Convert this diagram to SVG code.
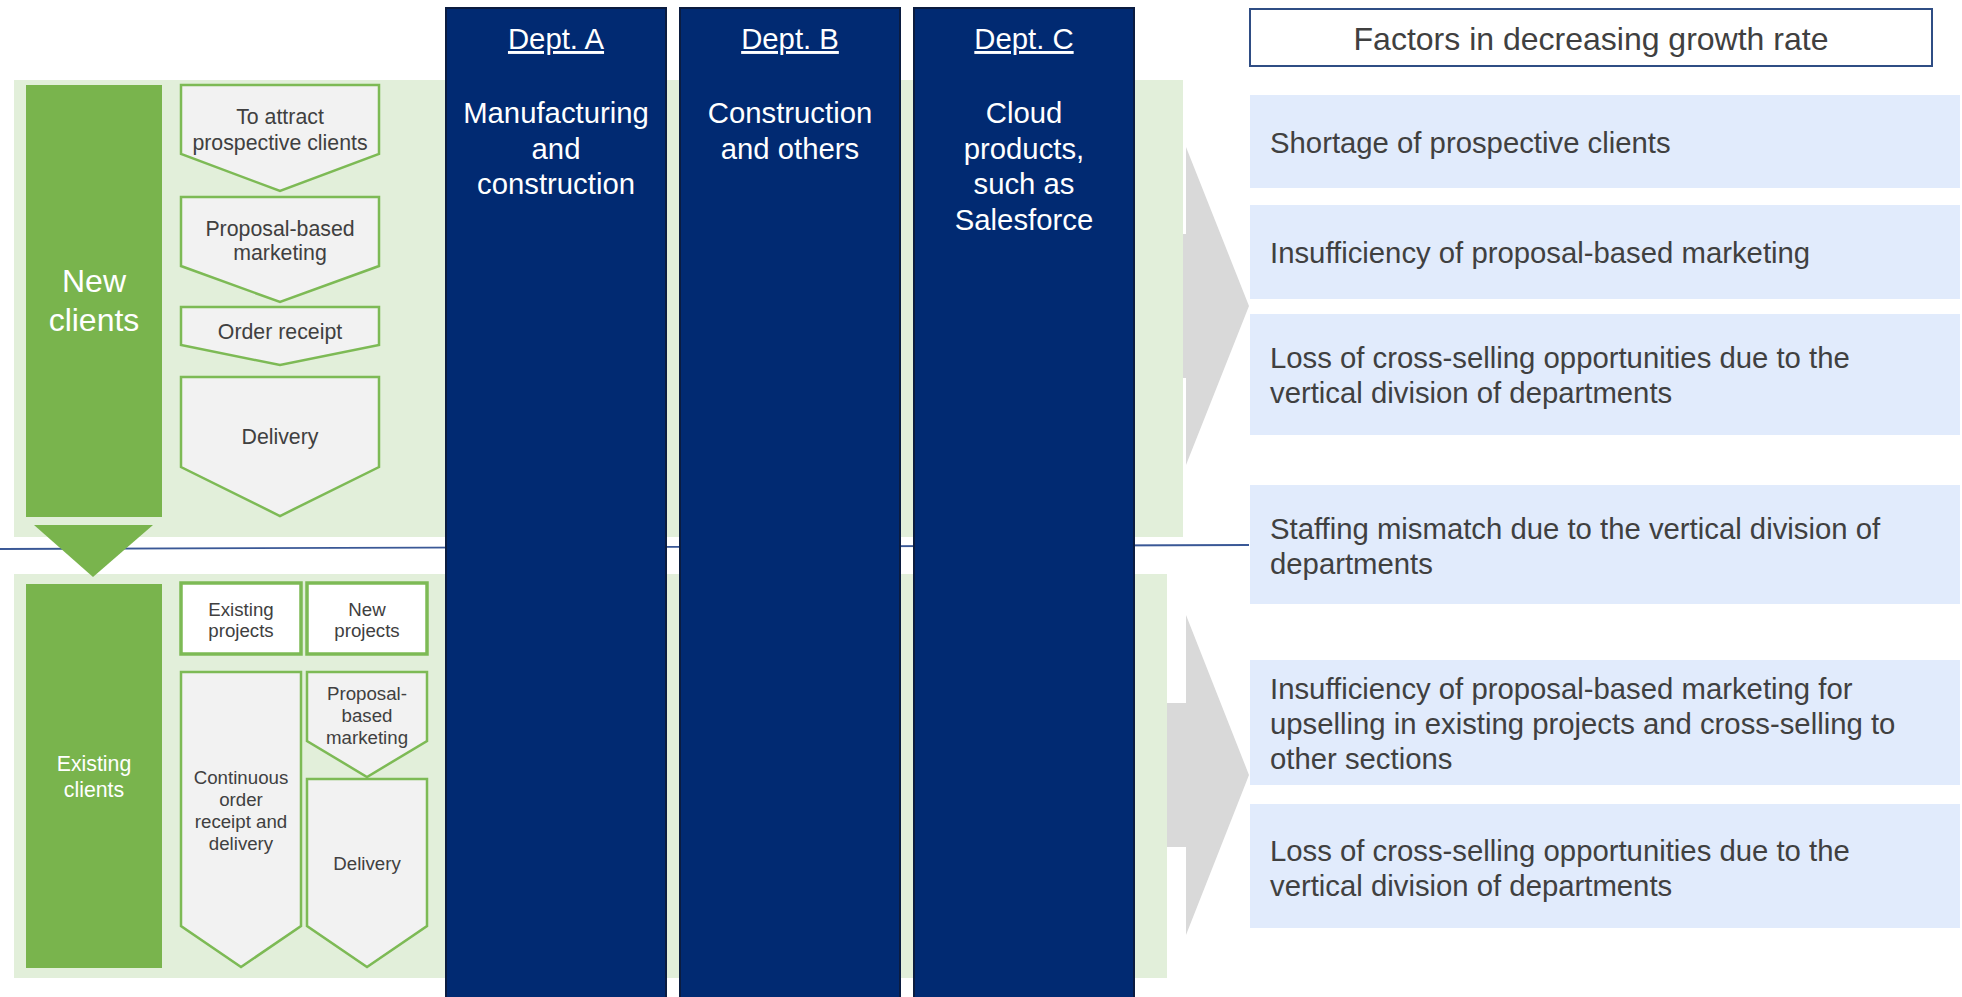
<svg xmlns="http://www.w3.org/2000/svg" width="1962" height="997" viewBox="0 0 1962 997">
<style>
text{font-family:"Liberation Sans",Arial,sans-serif;}
.panel{fill:#E2EFDA;}
.bar{fill:#79B44D;}
.chev{fill:#F2F2F2;stroke:#7DBA55;stroke-width:2.5;}
.pbox{fill:#FFFFFF;stroke:#7DBA55;stroke-width:3.5;}
.dept{fill:#012A72;stroke:#0B1C40;stroke-width:2;}
.factor{fill:#E1EBFC;}
.garrow{fill:#D9D9D9;}
.t16{font-size:21.3px;fill:#404040;text-anchor:middle;}
.t14{font-size:18.7px;fill:#404040;text-anchor:middle;}
.wt{fill:#FFFFFF;text-anchor:middle;}
.dl{font-size:29.3px;fill:#FFFFFF;text-anchor:middle;}
.ft{font-size:29.3px;fill:#404040;}
</style>
<rect width="1962" height="997" fill="#FFFFFF"/>
<g id="connectors">
<path class="garrow" d="M1150,234 L1186,234 L1186,147 L1249,306 L1186,465 L1186,378 L1150,378 Z"/>
<path class="garrow" d="M1140,703 L1186,703 L1186,615 L1249,775 L1186,935 L1186,847 L1140,847 Z"/>
<line x1="0" y1="549" x2="1249" y2="545" stroke="#3A5896" stroke-width="1.8"/>
</g>
<g id="panel-new"><rect class="panel" x="14" y="80" width="1169" height="457"/></g>
<g id="panel-existing"><rect class="panel" x="14" y="574" width="1153" height="404"/></g>
<g id="transition-arrow"><path fill="#79B44D" d="M34,525 L153,525 L93,577 Z"/></g>
<g id="new-clients">
<rect class="bar" x="26" y="85" width="136" height="432"/>
<text class="wt" font-size="32" x="94" y="292">New</text>
<text class="wt" font-size="32" x="94" y="331">clients</text>
</g>
<g id="step-attract">
<path class="chev" d="M181,85 L379,85 L379,154 L280,191 L181,154 Z"/>
<text class="t16" x="280" y="124">To attract</text>
<text class="t16" x="280" y="149.5">prospective clients</text>
</g>
<g id="step-proposal">
<path class="chev" d="M181,197 L379,197 L379,266 L280,302 L181,266 Z"/>
<text class="t16" x="280" y="235.5">Proposal-based</text>
<text class="t16" x="280" y="260">marketing</text>
</g>
<g id="step-order">
<path class="chev" d="M181,307 L379,307 L379,345 L280,365 L181,345 Z"/>
<text class="t16" x="280" y="338.5">Order receipt</text>
</g>
<g id="step-delivery">
<path class="chev" d="M181,377 L379,377 L379,467 L280,516 L181,467 Z"/>
<text class="t16" x="280" y="443.5">Delivery</text>
</g>
<g id="existing-clients">
<rect class="bar" x="26" y="584" width="136" height="384"/>
<text class="wt" font-size="21.3" x="94" y="771">Existing</text>
<text class="wt" font-size="21.3" x="94" y="797">clients</text>
</g>
<g id="existing-projects">
<rect class="pbox" x="181" y="583" width="120" height="71"/>
<text class="t14" x="241" y="615.5">Existing</text>
<text class="t14" x="241" y="637">projects</text>
</g>
<g id="new-projects">
<rect class="pbox" x="307" y="583" width="120" height="71"/>
<text class="t14" x="367" y="615.5">New</text>
<text class="t14" x="367" y="637">projects</text>
</g>
<g id="step-continuous">
<path class="chev" d="M181,672 L301,672 L301,926 L241,967 L181,926 Z"/>
<text class="t14" x="241" y="783.5">Continuous</text>
<text class="t14" x="241" y="805.5">order</text>
<text class="t14" x="241" y="827.5">receipt and</text>
<text class="t14" x="241" y="850">delivery</text>
</g>
<g id="step-proposal2">
<path class="chev" d="M307,672 L427,672 L427,741 L367,777 L307,741 Z"/>
<text class="t14" x="367" y="700">Proposal-</text>
<text class="t14" x="367" y="722">based</text>
<text class="t14" x="367" y="744">marketing</text>
</g>
<g id="step-delivery2">
<path class="chev" d="M307,779 L427,779 L427,926 L367,967 L307,926 Z"/>
<text class="t14" x="367" y="870">Delivery</text>
</g>
<g id="dept-a">
<rect class="dept" x="446" y="8" width="220" height="1000"/>
<text class="dl" x="556" y="49" text-decoration="underline">Dept. A</text>
<text class="dl" x="556" y="123">Manufacturing</text>
<text class="dl" x="556" y="158.5">and</text>
<text class="dl" x="556" y="194">construction</text>
</g>
<g id="dept-b">
<rect class="dept" x="680" y="8" width="220" height="1000"/>
<text class="dl" x="790" y="49" text-decoration="underline">Dept. B</text>
<text class="dl" x="790" y="123">Construction</text>
<text class="dl" x="790" y="158.5">and others</text>
</g>
<g id="dept-c">
<rect class="dept" x="914" y="8" width="220" height="1000"/>
<text class="dl" x="1024" y="49" text-decoration="underline">Dept. C</text>
<text class="dl" x="1024" y="123">Cloud</text>
<text class="dl" x="1024" y="158.5">products,</text>
<text class="dl" x="1024" y="194">such as</text>
<text class="dl" x="1024" y="229.5">Salesforce</text>
</g>
<g id="factors-title">
<rect x="1250" y="9" width="682" height="57" fill="#FFFFFF" stroke="#2F4D84" stroke-width="2"/>
<text x="1591" y="49.5" font-size="32" fill="#404040" text-anchor="middle">Factors in decreasing growth rate</text>
</g>
<g id="factor-1">
<rect class="factor" x="1250" y="95" width="710" height="93"/>
<text class="ft" x="1270" y="153">Shortage of prospective clients</text>
</g>
<g id="factor-2">
<rect class="factor" x="1250" y="205" width="710" height="94"/>
<text class="ft" x="1270" y="263">Insufficiency of proposal-based marketing</text>
</g>
<g id="factor-3">
<rect class="factor" x="1250" y="314" width="710" height="121"/>
<text class="ft" x="1270" y="368">Loss of cross-selling opportunities due to the</text>
<text class="ft" x="1270" y="403">vertical division of departments</text>
</g>
<g id="factor-4">
<rect class="factor" x="1250" y="485" width="710" height="119"/>
<text class="ft" x="1270" y="538.5">Staffing mismatch due to the vertical division of</text>
<text class="ft" x="1270" y="573.5">departments</text>
</g>
<g id="factor-5">
<rect class="factor" x="1250" y="660" width="710" height="125"/>
<text class="ft" x="1270" y="698.5">Insufficiency of proposal-based marketing for</text>
<text class="ft" x="1270" y="733.5">upselling in existing projects and cross-selling to</text>
<text class="ft" x="1270" y="768.5">other sections</text>
</g>
<g id="factor-6">
<rect class="factor" x="1250" y="804" width="710" height="124"/>
<text class="ft" x="1270" y="861">Loss of cross-selling opportunities due to the</text>
<text class="ft" x="1270" y="896">vertical division of departments</text>
</g>
</svg>
